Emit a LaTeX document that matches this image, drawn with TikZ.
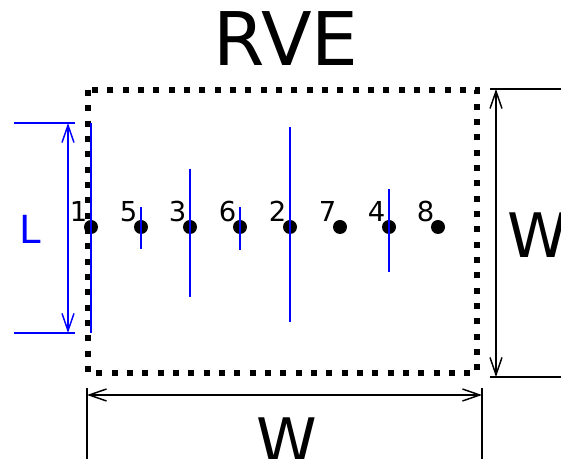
\documentclass[tikz,border=0pt]{standalone}
\usepackage{fontspec}
\setmainfont{DejaVu Sans}
\usetikzlibrary{arrows.meta,positioning}

\begin{document}
\begin{tikzpicture}[x=0.75pt,y=-0.75pt,
  >={Straight Barb[length=13pt,width=9pt]},
  dot/.style={circle,fill=black,inner sep=0pt,minimum size=10.5pt},
  num/.style={inner sep=0pt,font=\fontsize{20.6}{24}\selectfont},
  fibre/.style={blue,line width=1.5pt},
  dimline/.style={line width=1.1pt},
  dimarrow/.style={line width=1.1pt,<->},
  big/.style={inner sep=0pt,font=\fontsize{46}{50}\selectfont}]
  \useasboundingbox (0,0) rectangle (561,459);
  % title and cell
  \node[inner sep=0pt,font=\fontsize{55.5}{60}\selectfont] (title) at (286,39) {RVE};
  \draw[line width=4.5pt,dash pattern=on 4.5pt off 7pt] (88,90) rectangle (477,373);
  % points and their fibres
  \foreach \n/\x in {1/91,5/141,3/190,6/240,2/290,7/340,4/389,8/438} {
    \node[dot] (d\n) at (\x,227) {};
    \node[num,above left=3.75pt and 2.5pt of d\n.center] (n\n) {\n};
  }
  \foreach \n/\a/\b in {1/123/333,5/207/249,3/169/297,6/207/250,2/127/322,4/189/272}
    \draw[fibre] (d\n.center |- 0,\a) -- (d\n.center |- 0,\b);
  % L
  \coordinate (Lt) at (68,123);
  \coordinate (Lb) at (68,333);
  \draw[blue,dimline] (14,123) -- (75,123) (14,333) -- (75,333);
  \draw[blue,dimarrow] (Lt) -- (Lb);
  \node[inner sep=0pt,blue,font=\fontsize{29}{32}\selectfont] (lenL) at (30,229) {L};
  % W at the right
  \coordinate (Wt) at (496,89);
  \coordinate (Wb) at (496,377);
  \draw[dimline] (490,89) -- (561,89) (490,377) -- (561,377);
  \draw[dimarrow] (Wt) -- (Wb);
  \node[big] (wR) at (538,235) {W};
  % W below
  \coordinate (Wl) at (87,395);
  \coordinate (Wr) at (482,395);
  \draw[dimline] (87,388) -- (87,459) (482,388) -- (482,459);
  \draw[dimarrow] (Wl) -- (Wr);
  \node[big] (wB) at (287,440) {W};
\end{tikzpicture}
\end{document}
